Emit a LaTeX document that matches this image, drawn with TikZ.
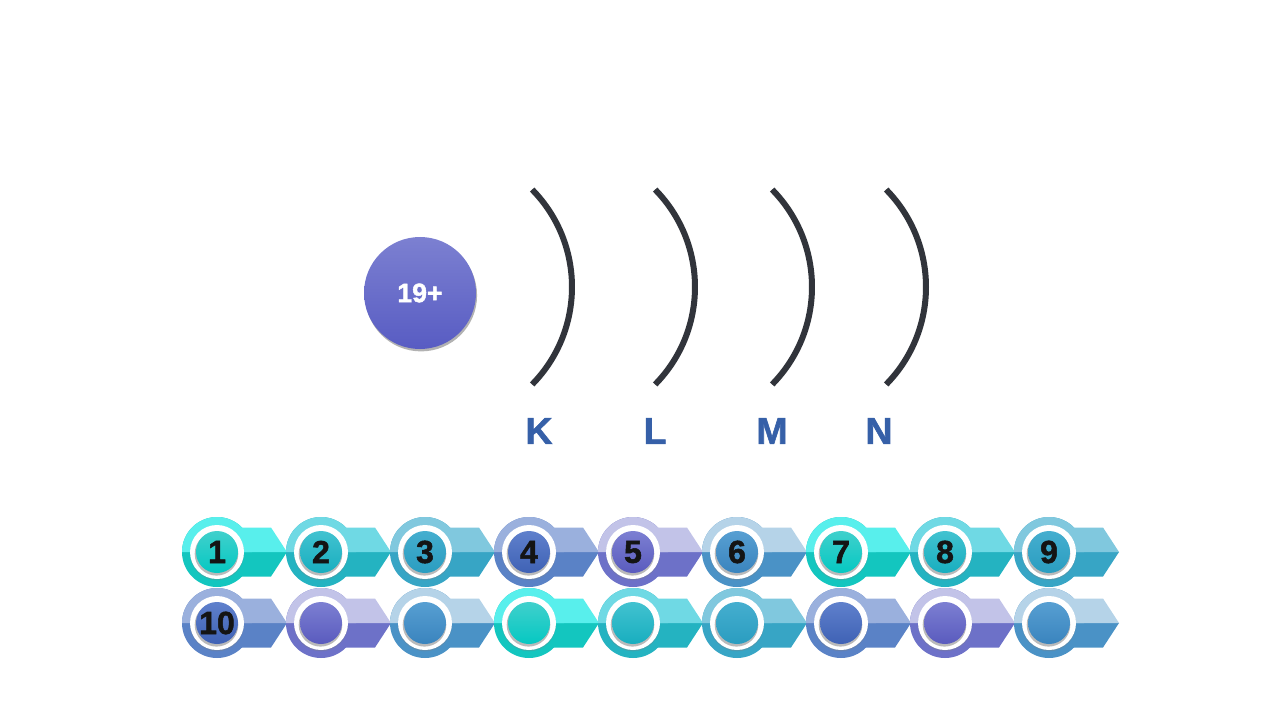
\documentclass[tikz,border=0pt]{standalone}
\usepackage{fontspec}
\setmainfont{Liberation Sans}
\newfontfamily\heavyfont[UprightFeatures={FakeBold=1.2}, BoldFeatures={FakeBold=1.6}]{Liberation Sans}
\usetikzlibrary{shadows}

\definecolor{shellgray}{HTML}{31343B}
\definecolor{shellblue}{HTML}{3660A8}
\definecolor{nucTop}{HTML}{7C80D1}
\definecolor{nucBot}{HTML}{585CC3}
% badge colours: L light half, D dark half, T/B inner disk top/bottom
\definecolor{turqL}{HTML}{58EFEC}\definecolor{turqD}{HTML}{13C6BF}
\definecolor{turqT}{HTML}{40D0CC}\definecolor{turqB}{HTML}{05C8C2}
\definecolor{tealL}{HTML}{6FD9E4}\definecolor{tealD}{HTML}{24B3C1}
\definecolor{tealT}{HTML}{42C2D0}\definecolor{tealB}{HTML}{18AEBF}
\definecolor{btealL}{HTML}{80C8DE}\definecolor{btealD}{HTML}{37A5C5}
\definecolor{btealT}{HTML}{45AECF}\definecolor{btealB}{HTML}{2A9DC0}
\definecolor{blueL}{HTML}{9AB0DD}\definecolor{blueD}{HTML}{5A82C6}
\definecolor{blueT}{HTML}{5F80CC}\definecolor{blueB}{HTML}{3F62B5}
\definecolor{purpL}{HTML}{C2C3E8}\definecolor{purpD}{HTML}{6D71C8}
\definecolor{purpT}{HTML}{7C7FD2}\definecolor{purpB}{HTML}{5A5BBE}
\definecolor{lblueL}{HTML}{B5D3E8}\definecolor{lblueD}{HTML}{4A92C6}
\definecolor{lblueT}{HTML}{579FD2}\definecolor{lblueB}{HTML}{3A84BE}

\tikzset{
  shellline/.style={line width=4.5pt, color=shellgray},
  shelllabel/.style={text=shellblue, font=\heavyfont\bfseries\fontsize{28}{28}\selectfont, inner sep=0pt},
  nucleus/.style={circle, minimum size=84pt, inner sep=0pt, top color=nucTop, bottom color=nucBot,
    drop shadow={opacity=0.3, fill=black, shadow xshift=0.8pt, shadow yshift=-1.8pt},
    text=white, font=\heavyfont\bfseries\fontsize{20}{20}\selectfont},
  badgenum/.style={font=\heavyfont\bfseries\fontsize{24}{24}\selectfont, text=black!92, inner sep=0pt},
}

% shell arc, #1 = x of its right-most point
\def\shell#1{\draw[shellline] (#1-139,-287) ++(44.5:139) arc (44.5:-44.5:139);}
% badge: x, y, colour, node name, text
\def\badge#1#2#3#4#5{%
  \fill[#3D] (#1,#2) circle (35);
  \fill[#3D] (#1,#2) -- (#1,#2-24.5) -- (#1+54,#2-24.5) -- (#1+70,#2) -- cycle;
  \fill[#3L] (#1+35,#2) arc (0:180:35) -- cycle;
  \fill[#3L] (#1,#2) -- (#1,#2+24.5) -- (#1+54,#2+24.5) -- (#1+70,#2) -- cycle;
  \fill[white, drop shadow={opacity=0.3, shadow xshift=0pt, shadow yshift=-1pt}] (#1,#2) circle (27);
  \fill[black!45, opacity=0.6] (#1-0.5,#2-1.8) circle (21.8);
  \shade[top color=#3T, bottom color=#3B] (#1,#2) circle (21);
  \node[badgenum] (#4) at (#1,#2) {#5};
}

\begin{document}
\begin{tikzpicture}[x=0.75pt, y=0.75pt]
		%%%%% START %%%%%
		
		\useasboundingbox (0,0) rectangle (1280,-720);
		\fill[white] (0,0) rectangle (1280,-720);
		
		\node[nucleus] (nuc) at (420,-293) {19+};
		
		\shell{572}
		\shell{695}
		\shell{812}
		\shell{926}
		
		\node[shelllabel] (lblK) at (539,-431) {K};
		\node[shelllabel] (lblL) at (655,-431) {L};
		\node[shelllabel] (lblM) at (772,-431) {M};
		\node[shelllabel] (lblN) at (879,-431) {N};
		
		\badge{217}{-552}{turq}{b1}{1}
		\badge{321}{-552}{teal}{b2}{2}
		\badge{425}{-552}{bteal}{b3}{3}
		\badge{529}{-552}{blue}{b4}{4}
		\badge{633}{-552}{purp}{b5}{5}
		\badge{737}{-552}{lblue}{b6}{6}
		\badge{841}{-552}{turq}{b7}{7}
		\badge{945}{-552}{teal}{b8}{8}
		\badge{1049}{-552}{bteal}{b9}{9}
		
		\badge{217}{-623}{blue}{b10}{10}
		\badge{321}{-623}{purp}{b11}{}
		\badge{425}{-623}{lblue}{b12}{}
		\badge{529}{-623}{turq}{b13}{}
		\badge{633}{-623}{teal}{b14}{}
		\badge{737}{-623}{bteal}{b15}{}
		\badge{841}{-623}{blue}{b16}{}
		\badge{945}{-623}{purp}{b17}{}
		\badge{1049}{-623}{lblue}{b18}{}
		
		%%%%% END %%%%%
\end{tikzpicture}
\end{document}
